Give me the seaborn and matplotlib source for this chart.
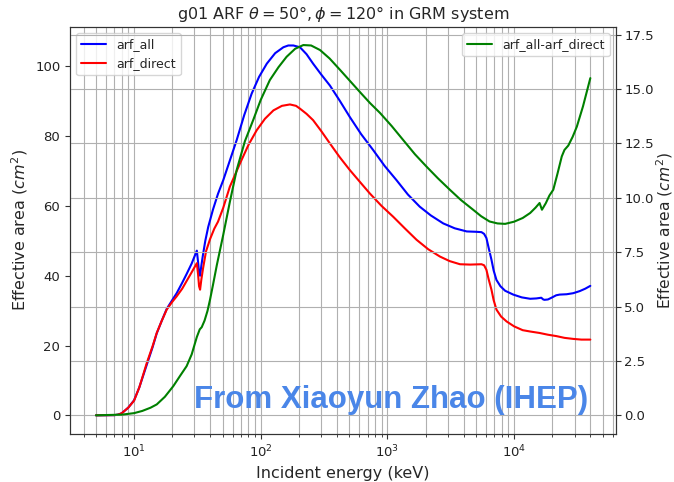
import numpy as np
import pandas as pd
import matplotlib
matplotlib.use("Agg")
import matplotlib.pyplot as plt
import seaborn as sns

# arf_all (left axis)
e_all = [5, 7, 7.5, 8, 9, 10, 11, 12.6, 14, 15.1, 16.5, 18.1, 20, 21.7, 24, 26, 28.5, 31.3,
         32, 32.6, 33.2, 34, 35, 36.5, 38.5, 42, 46, 50.6, 57, 64.6, 74, 84.8, 97, 111.7,
         130, 151, 165, 181, 204, 230, 259, 300, 352, 420, 505, 620, 773, 950, 1180, 1450,
         1800, 2200, 2760, 3400, 4230, 5000, 5530, 5800, 6050, 6300, 6630, 6900, 7260,
         7800, 8500, 9850, 11500, 13400, 15000, 16400, 17000, 17400, 18500, 20000, 21500,
         22900, 26000, 29300, 33000, 36500, 40000]
v_all = [0, 0.05, 0.2, 0.6, 2.2, 4.3, 8, 14.5, 19.5, 23.5, 27, 30.5, 33, 35, 38, 40.5, 43.5, 47.2,
         44, 41, 40, 43, 46, 50, 54, 59, 63.5, 67.4, 73, 78.9, 86, 92.2, 97, 100.8,
         103.8, 105.5, 106, 106, 105.5, 103.5, 100.8, 97.7, 94.5, 90.2, 85.5, 80.6, 76, 71.5, 67.4, 63.3,
         59.8, 57.3, 55, 53.6, 52.7, 52.6, 52.5, 52, 50.8, 48, 44.6, 41.5, 38.8,
         37, 35.7, 34.6, 33.8, 33.4, 33.5, 33.7, 33.2, 33.1, 33.2, 33.8, 34.4,
         34.6, 34.7, 35, 35.6, 36.3, 37.1]

# arf_direct (left axis)
e_dir = [5, 7, 7.5, 8, 9, 10, 11, 12.6, 14, 15.1, 16.5, 18.1, 20, 21.7, 24, 26, 28.5, 31.3,
         32, 32.6, 33.2, 34, 35, 37, 39.8, 43, 46, 50.6, 57, 68.6, 80, 92.9, 108, 126,
         147, 170, 190, 204, 230, 259, 300, 352, 420, 505, 610, 726, 900, 1112, 1380,
         1700, 2100, 2600, 3100, 3740, 4500, 5530, 5800, 6050, 6300, 6630, 6900, 7260,
         7900, 8730, 10000, 11700, 13500, 15900, 18500, 21600, 25000, 29300, 34000, 40000]
v_dir = [0, 0.05, 0.2, 0.6, 2.2, 4.2, 8, 15, 19.8, 23.6, 27, 30.3, 32.5, 34.1, 36.3, 38.5, 41, 43.6,
         40.5, 37, 36, 39, 42, 47, 50.5, 53.5, 55.5, 59.5, 65.5, 72.2, 77.5, 81.7, 85, 87.4,
         88.7, 89.1, 88.7, 87.9, 86.4, 84.6, 81.5, 77.9, 74, 70.3, 66.8, 63.6, 60, 56.9, 53.5,
         50.3, 47.6, 45.5, 44.2, 43.3, 43.2, 43.3, 43, 41.7, 39, 36, 33, 30.3,
         28.3, 26.9, 25.5, 24.4, 24, 23.6, 23.1, 22.7, 22.2, 21.9, 21.7, 21.7]

# arf_all - arf_direct (right axis)
e_diff = [5, 8, 10, 11.6, 13.5, 15.1, 17.5, 20.4, 23, 26, 28.5, 31.3, 33, 34.2, 36, 38, 39.8,
          42, 45, 50.6, 57, 64.6, 75, 87.3, 100, 118, 138, 160, 187, 217, 250, 294, 350,
          424, 510, 609, 730, 874, 1080, 1330, 1650, 2030, 2500, 3110, 3800, 4750, 5500,
          6400, 7400, 8500, 10000, 11700, 13400, 14800, 15900, 16600, 17800, 19000, 20400,
          22000, 23800, 25000, 26800, 29000, 31300, 35000, 40000]
v_diff = [0, 0.03, 0.1, 0.2, 0.35, 0.5, 0.85, 1.34, 1.8, 2.26, 2.8, 3.6, 3.95, 4.05, 4.35, 4.8, 5.32,
          6.0, 6.9, 8.3, 9.8, 11.28, 12.6, 13.58, 14.5, 15.41, 16.0, 16.48, 16.85, 17.02, 17.0, 16.79, 16.4,
          15.87, 15.35, 14.85, 14.35, 13.9, 13.3, 12.66, 12.0, 11.44, 10.9, 10.37, 9.9, 9.45, 9.15,
          8.91, 8.82, 8.8, 8.9, 9.07, 9.3, 9.55, 9.76, 9.45, 9.75, 10.1, 10.37,
          11.1, 11.9, 12.2, 12.4, 12.8, 13.27, 14.2, 15.5]

sns.set_style("ticks")
plt.rcParams['font.family'] = ['DejaVu Sans']

fig = plt.figure(figsize=(6.74, 4.82), dpi=100)
ax1 = fig.add_axes([0.104, 0.100, 0.810, 0.844])

df_all = pd.DataFrame({"E": e_all, "A": v_all})
df_dir = pd.DataFrame({"E": e_dir, "A": v_dir})
df_diff = pd.DataFrame({"E": e_diff, "A": v_diff})

sns.lineplot(data=df_all, x="E", y="A", ax=ax1, color="blue", lw=1.5, label="arf_all")
sns.lineplot(data=df_dir, x="E", y="A", ax=ax1, color="red", lw=1.5, label="arf_direct")
ax1.set_xscale("log")
ax1.set_xlabel("Incident energy (keV)", fontsize=11.5)
ax1.set_ylabel(r"Effective area ($cm^2$)", fontsize=11.5)
ax1.set_title(r"g01 ARF $\theta=50°,\phi=120°$ in GRM system", fontsize=11.5)
ax1.grid(axis="x", which="both", color="#b0b0b0", lw=0.8)
ax1.set_ylim(-5.3, 111.3)
ax1.set_yticks([0, 20, 40, 60, 80, 100])
ax1.legend(loc="upper left", fontsize=9, handlelength=2, borderpad=0.4)

ax2 = ax1.twinx()
sns.lineplot(data=df_diff, x="E", y="A", ax=ax2, color="green", lw=1.5, label="arf_all-arf_direct")
ax2.set_ylabel(r"Effective area ($cm^2$)", fontsize=11.2, labelpad=0)
ax2.set_xlabel("")
ax2.set_ylim(-0.85, 17.85)
ax2.set_yticks([0, 2.5, 5, 7.5, 10, 12.5, 15, 17.5])
ax2.grid(axis="y", color="#b0b0b0", lw=0.8)
ax2.legend(loc="upper right", fontsize=9, handlelength=2, borderpad=0.4)
ax1.set_xlim(10**0.495, 10**4.805)

for ax in (ax1, ax2):
    for s in ax.spines.values():
        s.set_visible(True)
        s.set_color("#333333")
    ax.tick_params(labelsize=9.5, colors="#333333", labelcolor="#222222")
ax2.tick_params(axis="y", pad=2.5)

fig.text(0.580, 0.170, "From Xiaoyun Zhao (IHEP)", color="#4a86e8", fontsize=22.5,
         fontweight="bold", ha="center", va="center", family="Liberation Sans")

fig.savefig("out.png", dpi=100)
